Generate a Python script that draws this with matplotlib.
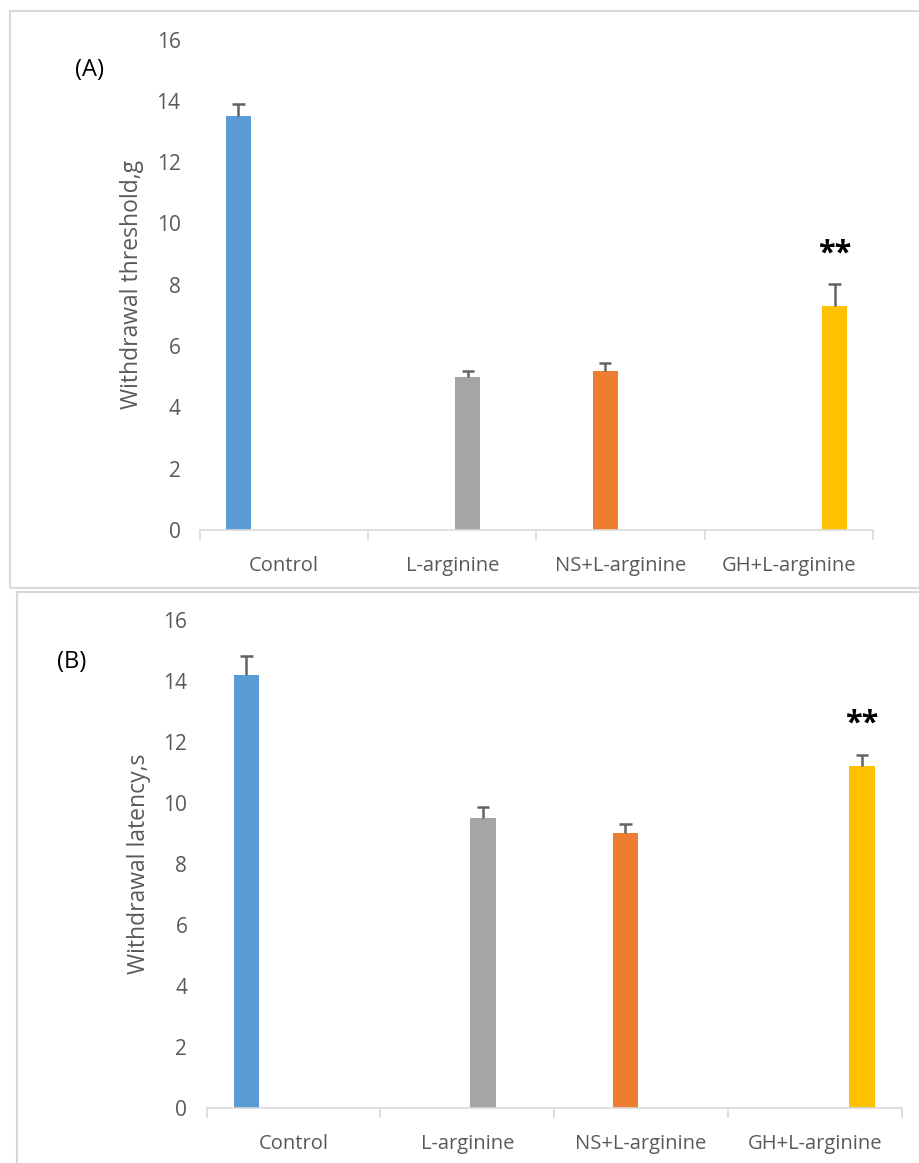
import matplotlib.pyplot as plt
import numpy as np
from matplotlib.patches import Rectangle

plt.rcParams["font.family"] = ["Open Sans", "DejaVu Sans"]

groups = ["Control", "L-arginine", "NS+L-arginine", "GH+L-arginine"]
colors = ["#5B9BD5", "#A5A5A5", "#ED7D31", "#FFC000"]
# position of each group's bar inside the (Excel style) cluster
series_slot = [0, 2, 1, 3]

threshold_mean = [13.5, 5.0, 5.2, 7.3]
threshold_err = [0.4, 0.2, 0.25, 0.72]

latency_mean = [14.2, 9.5, 9.0, 11.2]
latency_err = [0.6, 0.35, 0.3, 0.38]

stars_idx = 3
TXT = "#595959"
LINE = "#D9D9D9"


def draw_panel(ax, means, errs, ylabel, tag, tag_xy, fig):
    means = np.array(means)
    errs = np.array(errs)
    x = np.arange(len(groups)) + (np.array(series_slot) - 1.5) * 0.181
    ax.bar(x, means, width=0.146, color=colors, zorder=2)
    # upper error bars only, like the excel "plus" direction
    ax.vlines(x, means, means + errs, color="#636363", linewidth=1.8, zorder=3)
    ax.hlines(means + errs, x - 0.036, x + 0.036, color="#636363", linewidth=1.8, zorder=3)
    ax.set_xlim(-0.5, 3.5)
    ax.set_ylim(0, 16)
    ax.set_yticks(np.arange(0, 17, 2))
    ax.tick_params(axis="y", length=0, pad=14, labelsize=15, labelcolor=TXT)
    ax.set_xticks(np.arange(-0.5, 4, 1.0))
    ax.set_xticklabels([])
    ax.set_xticks(np.arange(len(groups)), minor=True)
    ax.set_xticklabels(groups, minor=True)
    ax.tick_params(axis="x", which="major", length=7, width=1.2, color=LINE, direction="out")
    ax.tick_params(axis="x", which="minor", length=0, pad=19, labelsize=14.5, labelcolor=TXT)
    for s in ["top", "right", "left"]:
        ax.spines[s].set_visible(False)
    ax.spines["bottom"].set_color(LINE)
    ax.spines["bottom"].set_linewidth(1.2)
    ax.set_ylabel(ylabel, fontsize=16.5, color=TXT, labelpad=9)
    ax.text(x[stars_idx], means[stars_idx] + errs[stars_idx] + 1.0, "**",
            ha="center", va="center", fontsize=22, fontweight="bold", color="black")
    fig.text(tag_xy[0], tag_xy[1], tag, ha="center", va="center", fontsize=17, color="black")


fig = plt.figure(figsize=(9.2, 11.63), dpi=100)
W, H = 920.0, 1163.0

# panel frames
fig.patches.append(Rectangle((10 / W, 1 - 588 / H), 920 / W, 577 / H, transform=fig.transFigure,
                             fill=False, edgecolor=LINE, linewidth=1.5))
fig.patches.append(Rectangle((17 / W, -0.01), 920 / W, (1163 - 592) / H + 0.01, transform=fig.transFigure,
                             fill=False, edgecolor=LINE, linewidth=1.5))

ax_a = fig.add_axes([200 / W, 1 - 530 / H, 673 / W, 490.5 / H])
draw_panel(ax_a, threshold_mean, threshold_err, "Withdrawal threshold,g", "(A)",
           (90 / W, 1 - 70 / H), fig)

ax_b = fig.add_axes([206.7 / W, 1 - 1107.7 / H, 695 / W, 488 / H])
draw_panel(ax_b, latency_mean, latency_err, "Withdrawal latency,s", "(B)",
           (72 / W, 1 - 662 / H), fig)

fig.savefig("out.png", dpi=100)
